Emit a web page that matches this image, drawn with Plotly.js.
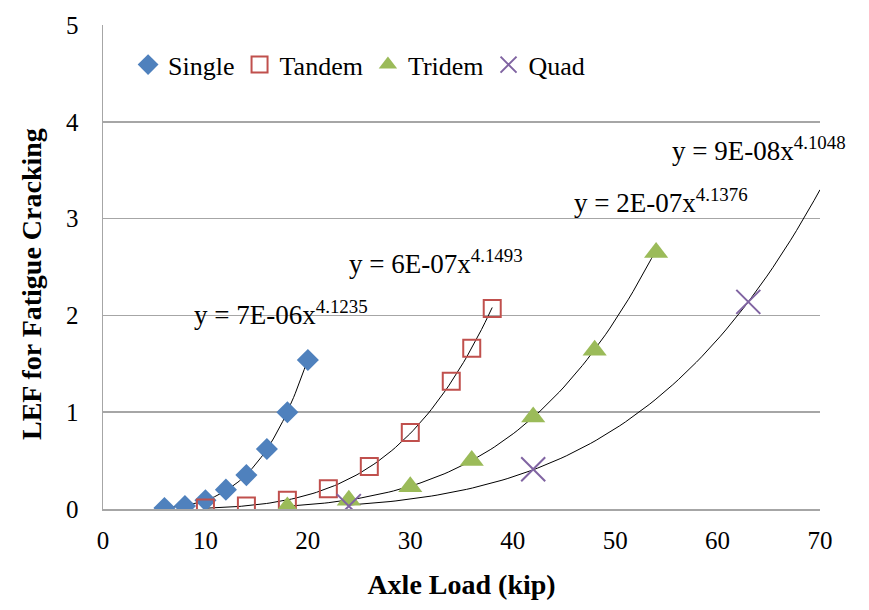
<!DOCTYPE html>
<html>
<head>
<meta charset="utf-8">
<script src="https://cdn.plot.ly/plotly-3.0.1.min.js"></script>
<style>html,body{margin:0;padding:0;background:#fff;}#chart{width:869px;height:610px;}</style>
</head>
<body>
<div id="chart"></div>
<script>
// ---- Data ----
const singleX = [6, 8, 10, 12, 14, 16, 18, 20];
const singleY = [0.01, 0.03, 0.09, 0.2, 0.35, 0.62, 1.0, 1.54];

const tandemX = [10, 14, 18, 22, 26, 30, 34, 36, 38];
const tandemY = [0.01, 0.03, 0.09, 0.21, 0.44, 0.79, 1.32, 1.66, 2.07];

const tridemX = [18, 24, 30, 36, 42, 48, 54];
const tridemY = [0.02, 0.09, 0.23, 0.5, 0.95, 1.64, 2.65];

const quadX = [24, 42, 63];
const quadY = [0.03, 0.41, 2.14];

const seriesNames = ['Single', 'Tandem', 'Tridem', 'Quad'];

// Power trendlines y = a * x^b (coefficients as shown, a refined to the drawn curves)
const trendA = [6.7e-6, 5.8e-7, 1.82e-7, 8.8e-8];
const trendB = [4.1235, 4.1493, 4.1376, 4.1048];
const trendStart = [6, 10, 18, 24];
const trendEnd = [20, 38, 54, 70];
const trendLabels = ['y = 7E-06x<sup>4.1235</sup>', 'y = 6E-07x<sup>4.1493</sup>',
                     'y = 2E-07x<sup>4.1376</sup>', 'y = 9E-08x<sup>4.1048</sup>'];
const labelX = [8.7, 23.8, 45.8, 55.4];
const labelY = [2.02, 2.55, 3.18, 3.72];

const xTicks = [0, 10, 20, 30, 40, 50, 60, 70];
const yTicks = [0, 1, 2, 3, 4, 5];
const xTitle = 'Axle Load (kip)';
const yTitle = 'LEF for Fatigue Cracking';

// ---- Build traces ----
const serif = '"Times New Roman", "Liberation Serif", serif';
const traces = [];

function trendTrace(i) {
  const xs = [], ys = [];
  const n = 80;
  for (let k = 0; k <= n; k++) {
    const x = trendStart[i] + (trendEnd[i] - trendStart[i]) * k / n;
    xs.push(x);
    ys.push(trendA[i] * Math.pow(x, trendB[i]));
  }
  return {x: xs, y: ys, type: 'scatter', mode: 'lines', showlegend: false,
          hoverinfo: 'skip', line: {color: '#000000', width: 1}};
}
for (let i = 0; i < 4; i++) traces.push(trendTrace(i));

traces.push({x: singleX, y: singleY, name: seriesNames[0], type: 'scatter', mode: 'markers',
  marker: {symbol: 'diamond', size: 17, color: '#4F81BD', line: {width: 0}}});
traces.push({x: tandemX, y: tandemY, name: seriesNames[1], type: 'scatter', mode: 'markers',
  marker: {symbol: 'square-open', size: 17, color: '#C0504D', line: {width: 2, color: '#C0504D'}}});
traces.push({x: tridemX, y: tridemY, name: seriesNames[2], type: 'scatter', mode: 'markers',
  marker: {symbol: 'triangle-up', size: 21, color: '#9BBB59', line: {width: 0}}});
traces.push({x: quadX, y: quadY, name: seriesNames[3], type: 'scatter', mode: 'markers',
  marker: {symbol: 'x-thin-open', size: 24, color: '#8064A2', line: {width: 2, color: '#8064A2'}}});

const annotations = trendLabels.map((t, i) => ({
  x: labelX[i], y: labelY[i], xref: 'x', yref: 'y', text: t, showarrow: false,
  xanchor: 'left', yanchor: 'middle', font: {family: serif, size: 27, color: '#000'}
}));
// y-axis title, placed where the reference draws it
annotations.push({
  x: 31, y: 284, xref: 'paper', yref: 'paper', text: '<b>' + yTitle + '</b>',
  showarrow: false, textangle: -90, xanchor: 'center', yanchor: 'middle',
  font: {family: serif, size: 28, color: '#000'}
});

const layout = {
  width: 869, height: 610,
  margin: {l: 103, r: 49, t: 25, b: 101, pad: 0},
  paper_bgcolor: '#ffffff', plot_bgcolor: '#ffffff',
  font: {family: serif, color: '#000'},
  showlegend: true,
  legend: {orientation: 'h', x: 0.035, y: 0.918, xanchor: 'left', yanchor: 'middle',
           font: {family: serif, size: 26, color: '#000'}, bgcolor: 'rgba(0,0,0,0)',
           itemclick: false},
  xaxis: {
    range: [0, 70], tickvals: xTicks, ticktext: xTicks.map(String),
    showgrid: false, zeroline: false, showline: true, linecolor: '#A6A6A6', linewidth: 1.5,
    ticks: '', ticklabelstandoff: 8,
    tickfont: {family: serif, size: 25, color: '#000'},
    title: {text: '<b>' + xTitle + '</b>', font: {family: serif, size: 28, color: '#000'}, standoff: 22}
  },
  yaxis: {
    range: [0, 5], tickvals: yTicks, ticktext: yTicks.map(String),
    showgrid: true, gridcolor: '#A6A6A6', gridwidth: 1.5,
    zeroline: false, showline: true, linecolor: '#A6A6A6', linewidth: 1.5,
    ticks: '', ticklabelstandoff: 18,
    tickfont: {family: serif, size: 25, color: '#000'}
  },
  annotations: annotations
};

// convert pixel position of y title to paper coords
const pw = 869 - 103 - 49, ph = 610 - 25 - 101;
const yt = annotations[annotations.length - 1];
yt.x = (yt.x - 103) / pw;
yt.y = (610 - 101 - yt.y) / ph;

Plotly.newPlot('chart', traces, layout, {displayModeBar: false, staticPlot: true});
</script>
</body>
</html>
